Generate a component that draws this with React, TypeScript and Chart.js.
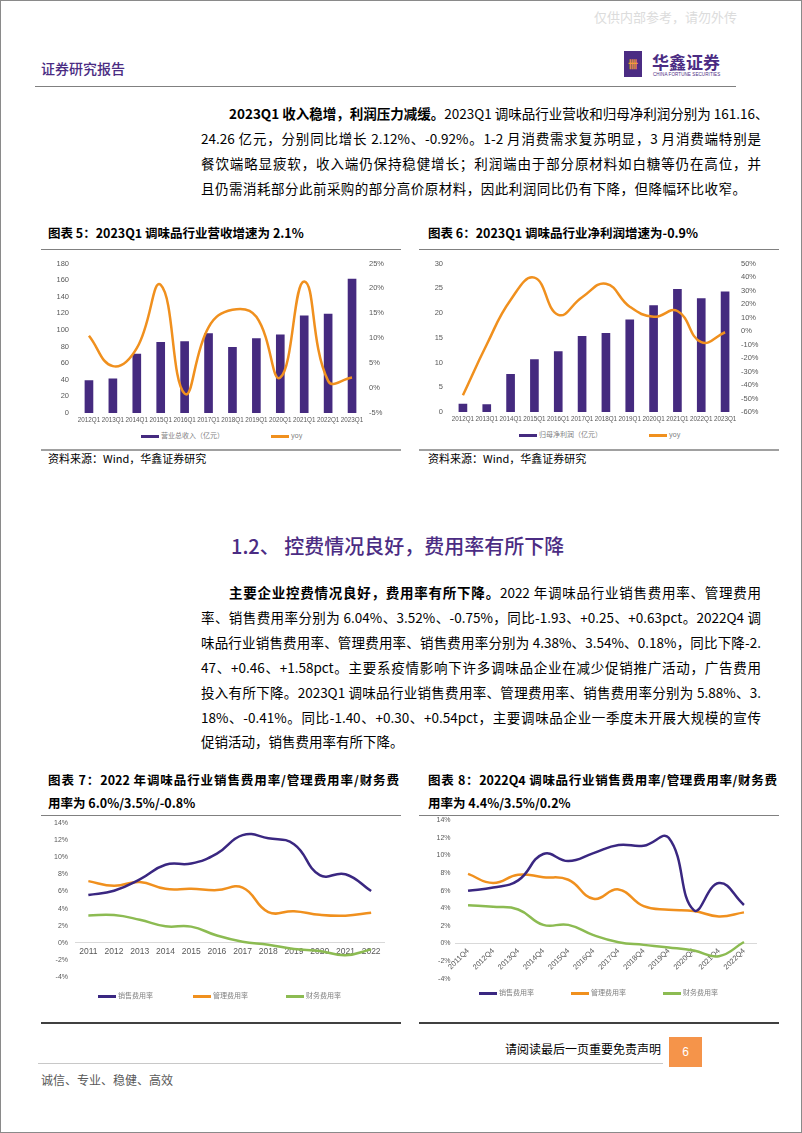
import React, { useEffect, useRef } from 'react';
import { Chart, registerables } from 'chart.js';
Chart.register(...registerables);

const cats5 = ['2012Q1', '2013Q1', '2014Q1', '2015Q1', '2016Q1', '2017Q1', '2018Q1', '2019Q1', '2020Q1', '2021Q1', '2022Q1', '2023Q1'];
const revenue5 = [39, 41, 71, 85, 86, 95.5, 79, 89.5, 94, 117, 119, 161.16];
const revenueYoy5 = [10.5, 4.4, 8, 20.7, -1.1, 12.2, 15.7, 14.3, 2.1, 21.4, 1.45, 2.12];
const cats6 = ['2012Q1', '2013Q1', '2014Q1', '2015Q1', '2016Q1', '2017Q1', '2018Q1', '2019Q1', '2020Q1', '2021Q1', '2022Q1', '2023Q1'];
const profit6 = [1.6, 1.5, 7.6, 10.6, 12.2, 15.3, 15.9, 18.6, 21.5, 24.8, 22.9, 24.26];
const profitYoy6 = [-47.6, -10, 23, 39.5, 12, 25, 35, 18, 10.5, 14.8, -8.3, -0.92];
const years7 = ['2011', '2012', '2013', '2014', '2015', '2016', '2017', '2018', '2019', '2020', '2021', '2022'];
const sales7 = [5.58, 6.08, 7.4, 9.1, 9.25, 10.4, 12.55, 12.2, 11.5, 7.9, 8.0, 6.04];
const admin7 = [7.2, 6.65, 7.1, 6.3, 6.3, 6.15, 6.45, 3.6, 3.7, 3.27, 3.17, 3.52];
const fin7 = [3.2, 3.24, 2.7, 1.94, 1.9, 0.86, 0.14, -0.2, -0.7, -0.93, -1.44, -0.75];
const quarters8 = ['2011Q4', '2012Q4', '2013Q4', '2014Q4', '2015Q4', '2016Q4', '2017Q4', '2018Q4', '2019Q4', '2020Q4', '2021Q4', '2022Q4'];
const sales8 = [6.0, 6.36, 7.17, 10.16, 9.36, 10.27, 11.19, 11.1, 12.0, 3.8, 6.87, 4.38];
const admin8 = [7.9, 6.87, 7.82, 7.53, 7.24, 5.08, 6.14, 4.24, 3.84, 3.7, 3.08, 3.54];
const fin8 = [4.35, 4.17, 3.87, 2.12, 2.12, 0.95, 0.15, -0.15, -0.44, -0.8, -1.43, 0.18];

const PURPLE = '#452a7f';
const LPURPLE = '#3a2781';
const ORANGE = '#f0901e';
const GREEN = '#8cbb52';
const TICK = '#595959';
const AXF = "'Liberation Sans', Arial, sans-serif";
const CJK = "'Noto Sans CJK SC', sans-serif";

function barLineConfig(labels, bars, yoy, leftMin, leftMax, leftStep, rMin, rMax, rStep, pad) {
  return {
    type: 'bar',
    data: {
      labels,
      datasets: [
        { type: 'line', data: yoy, yAxisID: 'y1', borderColor: ORANGE, borderWidth: 2.5, pointRadius: 0, tension: 0.45, order: 0 },
        { type: 'bar', data: bars, yAxisID: 'y', backgroundColor: PURPLE, barThickness: 8, order: 1 },
      ],
    },
    options: {
      animation: false,
      responsive: false,
      layout: { padding: { top: pad.top, left: 0, right: 0, bottom: 0 } },
      plugins: { legend: { display: false }, tooltip: { enabled: false } },
      scales: {
        x: {
          grid: { display: false, drawTicks: false },
          border: { display: false },
          ticks: { font: { family: AXF, size: 6.3 }, color: TICK, padding: 3, maxRotation: 0, minRotation: 0, autoSkip: false },
          afterFit: (s) => { s.height = 14; },
        },
        y: {
          position: 'left', min: leftMin, max: leftMax,
          grid: { display: false, drawTicks: false },
          border: { display: false },
          ticks: { stepSize: leftStep, font: { family: AXF, size: 7.5 }, color: TICK, padding: pad.lp },
          afterFit: (s) => { s.width = pad.lw; },
        },
        y1: {
          position: 'right', min: rMin, max: rMax,
          grid: { display: false, drawTicks: false },
          border: { display: false },
          ticks: { stepSize: rStep, font: { family: AXF, size: 7.5 }, color: TICK, padding: pad.rp, callback: (v) => v + '%' },
          afterFit: (s) => { s.width = pad.rw; },
        },
      },
    },
  };
}

function linesConfig(labels, a, b, c, rotate, pad) {
  const ds = (d, col) => ({ data: d, borderColor: col, backgroundColor: col, borderWidth: 2.5, pointRadius: 0, tension: 0.45 });
  return {
    type: 'line',
    data: { labels, datasets: [ds(a, LPURPLE), ds(b, ORANGE), ds(c, GREEN)] },
    options: {
      animation: false,
      responsive: false,
      layout: { padding: { top: pad.top, left: 0, right: pad.right, bottom: pad.bottom } },
      plugins: { legend: { display: false }, tooltip: { enabled: false } },
      scales: {
        x: {
          position: { y: 0 },
          offset: true,
          grid: { display: true, drawOnChartArea: false, drawTicks: false },
          border: { display: true, color: '#d9d9d9', width: 1 },
          ticks: {
            font: { family: AXF, size: rotate ? 7.5 : 8.5 }, color: TICK, padding: rotate ? 3 : 4,
            maxRotation: rotate ? 45 : 0, minRotation: rotate ? 45 : 0, autoSkip: false,
          },
          afterFit: (s) => { s.height = 0; },
        },
        y: {
          min: -4, max: 14,
          grid: { display: false, drawTicks: false },
          border: { display: false },
          ticks: { stepSize: 2, font: { family: AXF, size: 7 }, color: TICK, padding: pad.lp, callback: (v) => v + '%' },
          afterFit: (s) => { s.width = pad.lw; },
        },
      },
    },
  };
}

function ChartBox({ x, y, w, h, make }) {
  const ref = useRef(null);
  useEffect(() => {
    const c = new Chart(ref.current, make());
    return () => c.destroy();
  }, []);
  return <canvas ref={ref} width={w} height={h} style={{ position: 'absolute', left: x, top: y, width: w, height: h }} />;
}

function T({ x, y, s, children, bold = false, color = '#000', w, justify = false, weight, family = CJK, align }) {
  const st: any = {
    position: 'absolute', left: x, top: y - s * 0.7, fontSize: s, lineHeight: `${s * 1.4}px`,
    fontFamily: family, color, fontWeight: weight || (bold ? 700 : 400), whiteSpace: 'nowrap',
  };
  if (w !== undefined) st.width = w;
  if (justify) { st.textAlign = 'justify'; st.textAlignLast = 'justify'; }
  if (align) st.textAlign = align;
  return <div style={st}>{children}</div>;
}

function HLine({ x1, x2, y, c = '#808080', t = 1 }) {
  return <div style={{ position: 'absolute', left: x1, top: y - t / 2, width: x2 - x1, height: t, background: c }} />;
}

function Leg({ x, y, color, text }) {
  return (
    <>
      <div style={{ position: 'absolute', left: x, top: y - 1.5, width: 18, height: 3, background: color }} />
      <T x={x + 20} y={y} s={7} color="#7f7f7f">{text}</T>
    </>
  );
}

export default function App() {
  const bodyS = 13.5;
  return (
    <div style={{ position: 'absolute', left: 0, top: 0, width: 802, height: 1133, boxSizing: 'border-box', border: '1px solid #8a8a8a', background: '#fff', overflow: 'hidden' }}>
      <T x={593} y={16} s={13} color="#dcdcdc">仅供内部参考，请勿外传</T>
      <T x={40} y={68} s={14} color="#4b2c83" weight={500}>证券研究报告</T>
      <div style={{ position: 'absolute', left: 623, top: 50, width: 18, height: 26, background: '#4b2c83', color: '#f39a3a', fontSize: 10, lineHeight: '26px', textAlign: 'center', fontFamily: CJK, fontWeight: 700 }}>卌</div>
      <T x={651} y={61} s={17} color="#4b2c83" weight={700}>华鑫证券</T>
      <div style={{ position: 'absolute', left: 652, top: 71, fontSize: 4.5, fontFamily: AXF, color: '#4b2c83', whiteSpace: 'nowrap', letterSpacing: 0.1 }}>CHINA FORTUNE SECURITIES</div>
      <HLine x1={34} x2={735} y={85} c="#808080" t={1} />

      <T x={228} y={112} s={bodyS} w={532} justify><b>2023Q1 收入稳增，利润压力减缓。</b>2023Q1 调味品行业营收和归母净利润分别为 161.16、</T>
      <T x={200} y={137} s={bodyS} w={560} justify>24.26 亿元，分别同比增长 2.12%、-0.92%。1-2 月消费需求复苏明显，3 月消费端特别是</T>
      <T x={200} y={162} s={bodyS} w={560} justify>餐饮端略显疲软，收入端仍保持稳健增长；利润端由于部分原材料如白糖等仍在高位，并</T>
      <T x={200} y={187} s={bodyS} w={545} justify>且仍需消耗部分此前采购的部分高价原材料，因此利润同比仍有下降，但降幅环比收窄。</T>

      <T x={47} y={232} s={12.5} bold>图表 5：2023Q1 调味品行业营收增速为 2.1%</T>
      <T x={427} y={232} s={12.5} bold>图表 6：2023Q1 调味品行业净利润增速为-0.9%</T>
      <HLine x1={40} x2={400} y={248} c="#808080" t={1} />
      <HLine x1={418} x2={778} y={248} c="#808080" t={1} />

      <ChartBox x={40} y={250} w={360} h={176} make={() => barLineConfig(cats5, revenue5, revenueYoy5, 0, 180, 20, -5, 25, 5, { top: 4, lw: 36, lp: 8, rw: 37, rp: 5 })} />
      <ChartBox x={418} y={250} w={360} h={175} make={() => barLineConfig(cats6, profit6, profitYoy6, 0, 30, 5, -60, 50, 10, { top: 5, lw: 32, lp: 8, rw: 42, rp: 4 })} />
      <Leg x={140} y={435} color={PURPLE} text="营业总收入（亿元）" />
      <Leg x={270} y={435} color={ORANGE} text="yoy" />
      <Leg x={518} y={434} color={PURPLE} text="归母净利润（亿元）" />
      <Leg x={648} y={434} color={ORANGE} text="yoy" />

      <HLine x1={40} x2={400} y={449} c="#a0a0a0" t={2} />
      <HLine x1={418} x2={778} y={449} c="#a0a0a0" t={2} />
      <T x={47} y={458} s={11}>资料来源：Wind，华鑫证券研究</T>
      <T x={427} y={458} s={11}>资料来源：Wind，华鑫证券研究</T>

      <T x={230} y={545} s={20} color="#4b2c83" weight={500}>1.2、 控费情况良好，费用率有所下降</T>

      <T x={228} y={591} s={bodyS} w={532} justify><b>主要企业控费情况良好，费用率有所下降。</b>2022 年调味品行业销售费用率、管理费用</T>
      <T x={200} y={616} s={bodyS} w={560} justify>率、销售费用率分别为 6.04%、3.52%、-0.75%，同比-1.93、+0.25、+0.63pct。2022Q4 调</T>
      <T x={200} y={641} s={bodyS} w={560} justify>味品行业销售费用率、管理费用率、销售费用率分别为 4.38%、3.54%、0.18%，同比下降-2.</T>
      <T x={200} y={666} s={bodyS} w={560} justify>47、+0.46、+1.58pct。主要系疫情影响下许多调味品企业在减少促销推广活动，广告费用</T>
      <T x={200} y={691} s={bodyS} w={560} justify>投入有所下降。2023Q1 调味品行业销售费用率、管理费用率、销售费用率分别为 5.88%、3.</T>
      <T x={200} y={716} s={bodyS} w={560} justify>18%、-0.41%。同比-1.40、+0.30、+0.54pct，主要调味品企业一季度未开展大规模的宣传</T>
      <T x={200} y={740} s={bodyS}>促销活动，销售费用率有所下降。</T>

      <T x={47} y={779} s={12.5} bold w={351} justify>图表 7：2022 年调味品行业销售费用率/管理费用率/财务费</T>
      <T x={47} y={802} s={12.5} bold>用率为 6.0%/3.5%/-0.8%</T>
      <T x={427} y={779} s={12.5} bold w={349} justify>图表 8：2022Q4 调味品行业销售费用率/管理费用率/财务费</T>
      <T x={427} y={802} s={12.5} bold>用率为 4.4%/3.5%/0.2%</T>
      <HLine x1={40} x2={400} y={814} c="#808080" t={1} />
      <HLine x1={418} x2={778} y={814} c="#808080" t={1} />

      <ChartBox x={40} y={810} w={360} h={178} make={() => linesConfig(years7, sales7, admin7, fin7, false, { top: 6, bottom: 5, right: 17, lw: 34.5, lp: 7.5 })} />
      <ChartBox x={418} y={810} w={360} h={177} make={() => linesConfig(quarters8, sales8, admin8, fin8, true, { top: 8, bottom: 5, right: 22.5, lw: 36.5, lp: 5 })} />
      <Leg x={97} y={995} color={LPURPLE} text="销售费用率" />
      <Leg x={192} y={995} color={ORANGE} text="管理费用率" />
      <Leg x={285} y={995} color={GREEN} text="财务费用率" />
      <Leg x={478} y={992} color={LPURPLE} text="销售费用率" />
      <Leg x={570} y={992} color={ORANGE} text="管理费用率" />
      <Leg x={662} y={992} color={GREEN} text="财务费用率" />
      <HLine x1={40} x2={400} y={1022} c="#404040" t={1.5} />
      <HLine x1={418} x2={778} y={1022} c="#404040" t={1.5} />

      <T x={500} y={1048} s={12} w={160} align="right">请阅读最后一页重要免责声明</T>
      <div style={{ position: 'absolute', left: 668, top: 1036, width: 33, height: 30, background: '#f5944a', color: '#fff', fontFamily: AXF, fontSize: 12, lineHeight: '30px', textAlign: 'center' }}>6</div>
      <HLine x1={37} x2={662} y={1062} c="#c8c8c8" t={1} />
      <T x={40} y={1079} s={12} color="#595959">诚信、专业、稳健、高效</T>
    </div>
  );
}
